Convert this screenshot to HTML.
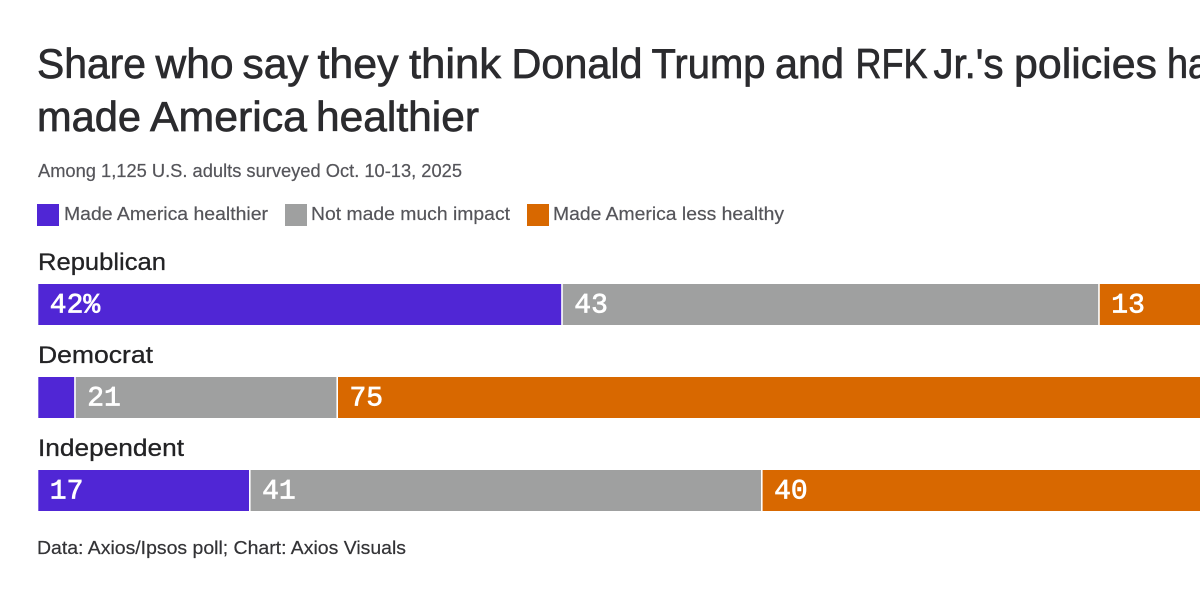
<!DOCTYPE html>
<html lang="en">
<head>
<meta charset="utf-8">
<title>Share who say they think Donald Trump and RFK Jr.'s policies have made America healthier</title>
<style>
html,body{margin:0;padding:0;background:#fff;width:1200px;height:600px;overflow:hidden}
svg{display:block;font-family:"Liberation Sans",sans-serif}
</style>
</head>
<body>
<svg id="chart" width="1200" height="600" viewBox="0 0 1200 600" xmlns="http://www.w3.org/2000/svg">
  <rect x="0" y="0" width="1200" height="600" fill="#ffffff"/>
  <text y="78" font-size="42" fill="#2b2b2e" stroke="#2b2b2e" stroke-width="0.7"><tspan x="37" textLength="109" lengthAdjust="spacingAndGlyphs">Share</tspan> <tspan x="155.5" textLength="78" lengthAdjust="spacingAndGlyphs">who</tspan> <tspan x="242.5" textLength="66" lengthAdjust="spacingAndGlyphs">say</tspan> <tspan x="317.5" textLength="81" lengthAdjust="spacingAndGlyphs">they</tspan> <tspan x="409" textLength="92" lengthAdjust="spacingAndGlyphs">think</tspan> <tspan x="511.5" textLength="131" lengthAdjust="spacingAndGlyphs">Donald</tspan> <tspan x="651.5" textLength="114" lengthAdjust="spacingAndGlyphs">Trump</tspan> <tspan x="775" textLength="69" lengthAdjust="spacingAndGlyphs">and</tspan> <tspan x="855.5" textLength="72" lengthAdjust="spacingAndGlyphs">RFK</tspan> <tspan x="933.5" textLength="70" lengthAdjust="spacingAndGlyphs">Jr.'s</tspan> <tspan x="1014" textLength="143" lengthAdjust="spacingAndGlyphs">policies</tspan> <tspan x="1167" textLength="82" lengthAdjust="spacingAndGlyphs">have</tspan></text>
  <text y="131" font-size="42" fill="#2b2b2e" stroke="#2b2b2e" stroke-width="0.7"><tspan x="37" textLength="104" lengthAdjust="spacingAndGlyphs">made</tspan> <tspan x="150" textLength="157" lengthAdjust="spacingAndGlyphs">America</tspan> <tspan x="316" textLength="163" lengthAdjust="spacingAndGlyphs">healthier</tspan></text>
  <text x="38" y="177" font-size="18" fill="#55555a" stroke="#55555a" stroke-width="0.2" textLength="424" lengthAdjust="spacingAndGlyphs">Among 1,125 U.S. adults surveyed Oct. 10-13, 2025</text>
  <g>
    <rect x="37" y="204" width="22" height="22" fill="#5026d5"/>
    <text x="64" y="220" font-size="18" fill="#55555a" stroke="#55555a" stroke-width="0.2" textLength="204" lengthAdjust="spacingAndGlyphs">Made America healthier</text>
    <rect x="285" y="204" width="22" height="22" fill="#9fa0a0"/>
    <text x="311" y="220" font-size="18" fill="#55555a" stroke="#55555a" stroke-width="0.2" textLength="199" lengthAdjust="spacingAndGlyphs">Not made much impact</text>
    <rect x="527" y="204" width="22" height="22" fill="#d86800"/>
    <text x="553" y="220" font-size="18" fill="#55555a" stroke="#55555a" stroke-width="0.2" textLength="231" lengthAdjust="spacingAndGlyphs">Made America less healthy</text>
  </g>
  <g id="bars"></g>
  <text x="37" y="554" font-size="18" fill="#333336" stroke="#333336" stroke-width="0.2" textLength="369" lengthAdjust="spacingAndGlyphs">Data: Axios/Ipsos poll; Chart: Axios Visuals</text>
</svg>
<script>
const categories = ["Republican", "Democrat", "Independent"];
const seriesNames = ["healthier", "no-impact", "less-healthy"];
const healthier = [42, 3, 17];
const noImpact = [43, 21, 41];
const lessHealthy = [13, 75, 40];
const printedLabels = [
  ["42%", "43", "13"],
  ["", "21", "75"],
  ["17", "41", "40"]
];

const colors = ["#5026d5", "#9fa0a0", "#d86800"];
const labelWidths = [128, 115, 146];
const NS = "http://www.w3.org/2000/svg";
const group = document.getElementById("bars");
const series = [healthier, noImpact, lessHealthy];

function xScale(v) { return 37.5 + v * 12.488; }
function rowTop(i) { return 284 + i * 93; }

categories.forEach(function (cat, i) {
  const label = document.createElementNS(NS, "text");
  
  
  label.setAttribute("x", 38);
  label.setAttribute("y", rowTop(i) - 14);
  label.setAttribute("font-size", 24);
  label.setAttribute("fill", "#232325");
  label.setAttribute("stroke", "#232325");
  label.setAttribute("stroke-width", 0.3);
  label.setAttribute("textLength", labelWidths[i]);
  label.setAttribute("lengthAdjust", "spacingAndGlyphs");
  label.textContent = cat;
  group.appendChild(label);

  let cum = 0;
  series.forEach(function (values, s) {
    const start = xScale(cum) + 0.8;
    cum += values[i];
    const end = xScale(cum) - 0.8;
    const bar = document.createElementNS(NS, "rect");
    
    
    bar.setAttribute("x", start);
    bar.setAttribute("y", rowTop(i));
    bar.setAttribute("width", Math.max(0, end - start));
    bar.setAttribute("height", 41);
    bar.setAttribute("fill", colors[s]);
    group.appendChild(bar);

    if (printedLabels[i][s]) {
      const value = document.createElementNS(NS, "text");
      
      
      value.setAttribute("x", start + 11.5);
      value.setAttribute("y", rowTop(i) + 28.5);
      value.setAttribute("font-family", '"Liberation Mono", monospace');
      value.setAttribute("font-size", 28);
      value.setAttribute("fill", "#ffffff");
      value.setAttribute("stroke", "#ffffff");
      value.setAttribute("stroke-width", 0.7);
      value.textContent = printedLabels[i][s];
      group.appendChild(value);
    }
  });
});
</script>
</body>
</html>
